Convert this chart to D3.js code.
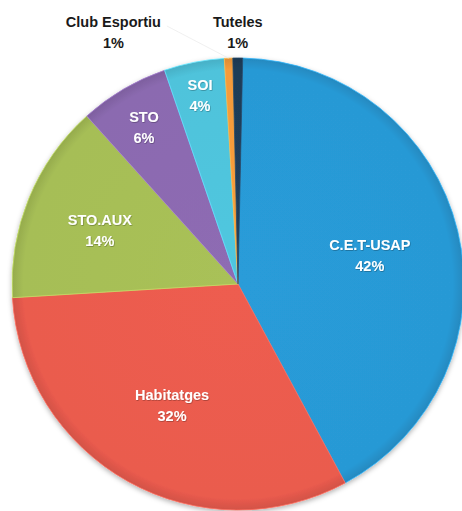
<!DOCTYPE html>
<html>
<head>
<meta charset="utf-8">
<script src="https://cdn.jsdelivr.net/npm/d3@7"></script>
<style>
  html, body { margin: 0; padding: 0; background: #fff; }
  svg { display: block; }
  text { font-family: "Liberation Sans", Arial, sans-serif; font-weight: bold; }
</style>
</head>
<body>
<div id="chart"></div>
<script>
// Pie chart data
const categories = ['C.E.T-USAP', 'Habitatges', 'STO.AUX', 'STO', 'SOI', 'Club Esportiu', 'Tuteles'];
const values = [41.8, 31.9, 14.3, 6.4, 4.3, 0.6, 0.7];
const colors = ['#2899d5', '#ea5b4e', '#a6be56', '#8b6ab0', '#4fc3db', '#f59b3a', '#1f3d59'];
const outsideLabels = ['Club Esportiu', 'Tuteles'];

const width = 462, height = 511;
const cx = 238, cy = 284, radius = 226;
const rotation = 1.2 * Math.PI / 180;

const svg = d3.select('#chart').append('svg')
    .attr('width', width)
    .attr('height', height);

const defs = svg.append('defs');

// soft shadow under the pie
const shadow = defs.append('filter')
    .attr('id', 'shadow')
    .attr('x', '-10%').attr('y', '-10%')
    .attr('width', '120%').attr('height', '120%');
shadow.append('feDropShadow')
    .attr('dx', 0).attr('dy', 2)
    .attr('stdDeviation', 2.5)
    .attr('flood-color', '#000')
    .attr('flood-opacity', 0.3);

// light text shadow
const textShadow = defs.append('filter').attr('id', 'tshadow');
textShadow.append('feDropShadow')
    .attr('dx', 0.6).attr('dy', 0.8)
    .attr('stdDeviation', 0.5)
    .attr('flood-color', '#000')
    .attr('flood-opacity', 0.3);

// gentle gradient per slice, darker only at the rim
colors.forEach((c, i) => {
    const g = defs.append('radialGradient')
        .attr('id', 'grad' + i)
        .attr('gradientUnits', 'userSpaceOnUse')
        .attr('cx', 0).attr('cy', 0).attr('r', radius);
    g.append('stop').attr('offset', '0%').attr('stop-color', d3.color(c).brighter(0.05));
    g.append('stop').attr('offset', '95%').attr('stop-color', c);
    g.append('stop').attr('offset', '100%').attr('stop-color', d3.color(c).darker(0.3));
});

const data = categories.map((name, i) => ({ name, value: values[i], index: i }));

const pie = d3.pie()
    .value(d => d.value)
    .sort(null)
    .startAngle(rotation)
    .endAngle(rotation + 2 * Math.PI);

const arcs = pie(data);

const arc = d3.arc()
    .innerRadius(0)
    .outerRadius(radius);

const g = svg.append('g')
    .attr('transform', `translate(${cx},${cy})`);

g.append('g')
    .attr('filter', 'url(#shadow)')
    .selectAll('path')
    .data(arcs)
    .enter()
    .append('path')
    .attr('d', arc)
    .attr('fill', d => `url(#grad${d.data.index})`)
    .attr('stroke', d => d3.color(colors[d.data.index]).brighter(0.45))
    .attr('stroke-width', 0.8)
    .attr('stroke-linejoin', 'round');

// label radius depends on slice size (bigger slices get labels nearer the centre)
const labelRadius = d3.scaleLinear()
    .domain([0.25, 0.9, 2.0])
    .range([0.87, 0.66, 0.6])
    .clamp(true);

const fmt = v => Math.round(v) + '%';
const lineGap = 21;

// inside labels
const inside = arcs.filter(d => !outsideLabels.includes(d.data.name));
const insideG = g.selectAll('.inlabel')
    .data(inside)
    .enter()
    .append('text')
    .attr('class', 'inlabel')
    .attr('text-anchor', 'middle')
    .attr('fill', '#fff')
    .attr('font-size', 14.5)
    .attr('filter', 'url(#tshadow)')
    .attr('transform', d => {
        const a = (d.startAngle + d.endAngle) / 2;
        const r = radius * labelRadius(d.endAngle - d.startAngle);
        return `translate(${Math.sin(a) * r},${-Math.cos(a) * r + 3})`;
    });
insideG.append('tspan')
    .attr('x', 0)
    .attr('y', -lineGap / 2 + 5)
    .text(d => d.data.name);
insideG.append('tspan')
    .attr('x', 0)
    .attr('y', lineGap / 2 + 5)
    .text(d => fmt(d.data.value));

// outside labels for the tiny slices, pushed left to avoid overlap
const outside = arcs.filter(d => outsideLabels.includes(d.data.name));
const outY = -(radius + 26);
const outItems = outside.map(d => {
    const a = (d.startAngle + d.endAngle) / 2;
    return { d, a, x: Math.sin(a) * radius, y: outY };
});
const measure = svg.append('text').attr('font-size', 14.5);
outItems.forEach(o => {
    measure.text(o.d.data.name);
    o.w = measure.node().getComputedTextLength();
});
measure.remove();
for (let i = outItems.length - 2; i >= 0; i--) {
    const next = outItems[i + 1];
    const cur = outItems[i];
    const maxX = next.x - next.w / 2 - 52 - cur.w / 2;
    if (cur.x > maxX) cur.x = maxX;
}

// leader lines
g.selectAll('.leader')
    .data(outItems.filter(o => Math.abs(o.x - Math.sin(o.a) * radius) > 20))
    .enter()
    .append('polyline')
    .attr('class', 'leader')
    .attr('fill', 'none')
    .attr('stroke', '#ececec')
    .attr('stroke-width', 0.8)
    .attr('points', o => {
        const px = Math.sin(o.a) * radius, py = -Math.cos(o.a) * radius;
        return [[o.x + o.w / 2 + 6, o.y - 6], [px, py]].map(p => p.join(',')).join(' ');
    });

const outG = g.selectAll('.outlabel')
    .data(outItems)
    .enter()
    .append('text')
    .attr('class', 'outlabel')
    .attr('text-anchor', 'middle')
    .attr('fill', '#1a1a1a')
    .attr('font-size', 14.5)
    .attr('transform', o => `translate(${o.x},${o.y})`);
outG.append('tspan')
    .attr('x', 0)
    .attr('y', -lineGap / 2 + 5)
    .text(o => o.d.data.name);
outG.append('tspan')
    .attr('x', 0)
    .attr('y', lineGap / 2 + 5)
    .text(o => fmt(o.d.data.value));
</script>
</body>
</html>
